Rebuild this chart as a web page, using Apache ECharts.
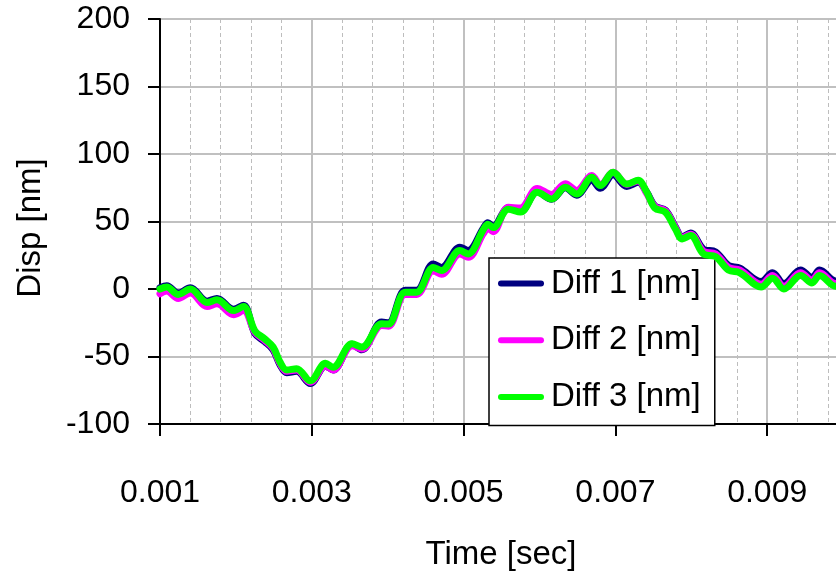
<!DOCTYPE html>
<html>
<head>
<meta charset="utf-8">
<script src="https://cdn.jsdelivr.net/npm/echarts@6/dist/echarts.min.js"></script>
<style>
  html, body { margin: 0; padding: 0; background: #fff; }
  #chart { width: 836px; height: 578px; }
</style>
</head>
<body>
<div id="chart"></div>
<script>
// Sample times [sec]
const timeSec = [
  0.00100, 0.00109, 0.00124, 0.00140, 0.00162, 0.00175, 0.00197, 0.00210,
  0.00225, 0.00238, 0.00249, 0.00258, 0.00267, 0.00280, 0.00298, 0.00318,
  0.00328, 0.00353, 0.00366, 0.00392, 0.00401, 0.00423, 0.00438, 0.00460,
  0.00471, 0.00495, 0.00506, 0.00526, 0.00532, 0.00539, 0.00559, 0.00575,
  0.00597, 0.00616, 0.00634, 0.00649, 0.00669, 0.00680, 0.00697, 0.00715,
  0.00730, 0.00741, 0.00752, 0.00766, 0.00779, 0.00788, 0.00799, 0.00816,
  0.00832, 0.00849, 0.00864, 0.00892, 0.00907, 0.00922, 0.00944, 0.00959,
  0.00969, 0.00990, 0.01000
];

// Displacement differences [nm]
const diff1 = [
  1, 2.5, -3, 1, -9, -7, -15, -12,
  -33, -39, -45, -56, -62, -61, -70, -57,
  -60, -41, -45, -24.5, -25, -1, -1, 18.5,
  16, 31, 28.5, 45, 49, 46.5, 60, 57.5,
  72, 66.5, 75, 69.5, 80.7, 74.6, 84.6, 76,
  79, 72, 61.5, 58.3, 46, 38.6, 41.5, 29.5,
  27.5, 17.5, 15.5, 5.5, 12, 4, 14, 8.5,
  14, 6, 7
];
const diff2 = [
  -3.5, -1.5, -7, -3, -13, -11, -19, -16,
  -32, -38, -44, -55, -61, -60, -69, -57,
  -60, -42, -44.5, -27, -27.5, -4, -4, 13.5,
  11, 26, 23.5, 41, 45, 42.5, 60.5, 60,
  74.5, 70, 78, 73, 84, 77, 86.4, 77.5,
  80, 71, 61, 57.8, 45.5, 38.1, 40.6, 28,
  26, 16, 14, 3.5, 10, 2, 12, 6.5,
  12, 4, 5
];
const diff3 = [
  0, 1.5, -4, 0, -10, -8, -16, -13,
  -31, -37, -43, -54, -60, -59, -68, -55,
  -58, -40.5, -43, -25.7, -26, -2.4, -2.4, 16,
  13.7, 28.5, 26, 44, 48, 45.5, 59, 57,
  71.6, 66.7, 75.3, 70.4, 82.7, 76.6, 86.4, 77.8,
  80.5, 72, 60, 56.8, 44.5, 37.1, 39.6, 26,
  24, 14, 12, 1.5, 8, 0, 10, 4.5,
  10, 2, 3
];

const seriesNames = ['Diff 1 [nm]', 'Diff 2 [nm]', 'Diff 3 [nm]'];
const seriesColors = ['#000080', '#FF00FF', '#00FF00'];
const seriesValues = [diff1, diff2, diff3];

const xTitle = 'Time [sec]';
const yTitle = 'Disp [nm]';

const FONT = '"Liberation Sans", Arial, Helvetica, sans-serif';

const chart = echarts.init(document.getElementById('chart'), null, { renderer: 'canvas' });

const option = {
  animation: false,
  backgroundColor: '#ffffff',
  grid: {
    left: 160, top: 19, width: 759, bottom: 154,
    outerBoundsMode: 'none',
    containLabel: false,
    show: true, borderColor: '#000', borderWidth: 2, backgroundColor: 'transparent'
  },
  xAxis: {
    type: 'value',
    min: 0.001, max: 0.011, interval: 0.002,
    axisLine: { show: true, onZero: false, lineStyle: { color: '#000', width: 2 } },
    axisTick: { show: true, inside: false, length: 12, lineStyle: { color: '#000', width: 2 } },
    axisLabel: {
      margin: 53, fontSize: 32, color: '#000', fontFamily: FONT,
      showMaxLabel: false,
      formatter: v => v.toFixed(3)
    },
    splitLine: { show: true, lineStyle: { color: '#c0c0c0', width: 2 } },
    minorTick: { show: false, splitNumber: 5 },
    minorSplitLine: { show: true, lineStyle: { color: '#bdbdbd', width: 1, type: [4, 3] } }
  },
  yAxis: {
    type: 'value',
    min: -100, max: 200, interval: 50,
    axisLine: { show: true, onZero: false, lineStyle: { color: '#000', width: 2 } },
    axisTick: { show: true, inside: false, length: 12, lineStyle: { color: '#000', width: 2 } },
    axisLabel: { margin: 30, fontSize: 32, color: '#000', fontFamily: FONT },
    splitLine: { show: true, lineStyle: { color: '#c0c0c0', width: 2 } }
  },
  legend: {
    orient: 'vertical',
    left: 489, top: 258,
    padding: [9, 14, 12, 9],
    itemGap: 23.7,
    itemWidth: 46, itemHeight: 33,
    backgroundColor: '#fff',
    borderColor: '#000', borderWidth: 1.5,
    icon: 'path://M3,0 L43,0 A3,3 0 0 1 43,6 L3,6 A3,3 0 0 1 3,0 Z',
    itemStyle: { borderWidth: 0 },
    textStyle: { fontSize: 33, color: '#000', fontFamily: FONT, padding: [0, 0, 0, 2] },
    data: seriesNames
  },
  graphic: [
    {
      type: 'text', x: 501, y: 555,
      style: { text: xTitle, fontSize: 33, fontFamily: FONT, fill: '#000', textAlign: 'center', textVerticalAlign: 'middle' }
    },
    {
      type: 'text', x: 31, y: 228, rotation: Math.PI / 2,
      style: { text: yTitle, fontSize: 33, fontFamily: FONT, fill: '#000', textAlign: 'center', textVerticalAlign: 'middle' }
    }
  ],
  series: seriesNames.map((name, i) => ({
    name,
    type: 'line',
    data: timeSec.map((t, k) => [t, seriesValues[i][k]]),
    smooth: 0.35,
    showSymbol: false,
    symbol: 'none',
    color: seriesColors[i],
    lineStyle: { color: seriesColors[i], width: 7, cap: 'round', join: 'round' },
    z: 2 + i
  }))
};

chart.setOption(option);
</script>
</body>
</html>
